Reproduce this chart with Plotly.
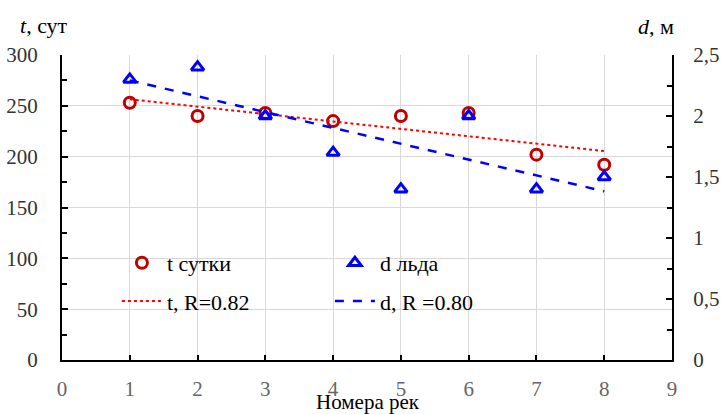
import numpy as np
import plotly.graph_objects as go

rivers = [1, 2, 3, 4, 5, 6, 7, 8]
t_days = [253, 240, 243, 235, 240, 243, 202, 192]
d_ice = [2.3, 2.4, 2.0, 1.7, 1.4, 2.0, 1.4, 1.5]
x_ticks = [0, 1, 2, 3, 4, 5, 6, 7, 8, 9]

xa = np.array(rivers, dtype=float)
kt, bt = np.polyfit(xa, np.array(t_days, dtype=float), 1)
kd, bd = np.polyfit(xa, np.array(d_ice, dtype=float), 1)
xt = [rivers[0], rivers[-1]]

FONT = "Liberation Serif"

fig = go.Figure()
fig.add_trace(go.Scatter(x=rivers, y=t_days, mode="markers", name="t сутки", legend="legend",
                         marker=dict(symbol="circle-open", size=11, color="#c00000",
                                     line=dict(width=3, color="#c00000"))))
fig.add_trace(go.Scatter(x=rivers, y=d_ice, mode="markers", name="d льда", yaxis="y2",
                         legend="legend",
                         marker=dict(symbol="triangle-up-open", size=11, color="#0000ff",
                                     line=dict(width=3, color="#0000ff"))))
fig.add_trace(go.Scatter(x=xt, y=[kt * v + bt for v in xt], mode="lines", name="t, R=0.82",
                         legend="legend2",
                         line=dict(color="#ff0000", width=2, dash="dot")))
fig.add_trace(go.Scatter(x=xt, y=[kd * v + bd for v in xt], mode="lines", name="d, R =0.80",
                         yaxis="y2", legend="legend2",
                         line=dict(color="#0000ff", width=2.5, dash="dash")))

leg_common = dict(orientation="h", xanchor="left", yanchor="middle",
                  bgcolor="rgba(0,0,0,0)", entrywidth=158, entrywidthmode="pixels",
                  itemwidth=40, font=dict(family=FONT, size=22, color="#000000"))

fig.update_layout(
    width=724, height=414,
    margin=dict(l=62, r=52, t=55, b=54),
    plot_bgcolor="white", paper_bgcolor="white",
    font=dict(family=FONT, size=21, color="#000000"),
    separators=", ",
    showlegend=True,
    legend=dict(x=0.090, y=0.318, **leg_common),
    legend2=dict(x=0.090, y=0.193, **leg_common),
    xaxis=dict(range=[0, 9], tickvals=x_ticks, showgrid=True, gridcolor="#d9d9d9",
               gridwidth=1, zeroline=False, showline=True, linecolor="#000000", linewidth=2,
               ticks="inside", ticklen=5, tickwidth=2, tickcolor="#000000",
               tickfont=dict(family=FONT, size=21, color="#666666"),
               ticklabelstandoff=9, automargin=False),
    yaxis=dict(range=[0, 300], dtick=50, showgrid=True, gridcolor="#d9d9d9", gridwidth=1,
               zeroline=False, showline=True, linecolor="#000000", linewidth=2,
               ticks="inside", ticklen=6, tickwidth=2, tickcolor="#000000",
               minor=dict(dtick=25, ticks="inside", ticklen=5, tickwidth=2,
                          tickcolor="#000000", showgrid=False),
               tickfont=dict(family=FONT, size=21, color="#333333"),
               ticklabelstandoff=18, automargin=False),
    yaxis2=dict(range=[0, 2.5], dtick=0.5, overlaying="y", side="right", showgrid=False,
                zeroline=False, showline=True, linecolor="#000000", linewidth=2,
                ticks="inside", ticklen=6, tickwidth=2, tickcolor="#000000",
                minor=dict(dtick=0.25, ticks="inside", ticklen=5, tickwidth=2,
                           tickcolor="#000000", showgrid=False),
                tickfont=dict(family=FONT, size=21, color="#333333"),
                ticklabelstandoff=15, automargin=False),
    annotations=[
        dict(text="<i>t</i>, сут", xref="paper", yref="paper", x=-0.0721, y=1.098,
             xanchor="left", yanchor="middle", showarrow=False,
             font=dict(family=FONT, size=22, color="#000000")),
        dict(text="<i>d</i>, м", xref="paper", yref="paper", x=0.941, y=1.092,
             xanchor="left", yanchor="middle", showarrow=False,
             font=dict(family=FONT, size=22, color="#000000")),
        dict(text="Номера рек", xref="paper", yref="paper", x=0.5016, y=-0.138,
             xanchor="center", yanchor="middle", showarrow=False,
             font=dict(family=FONT, size=21, color="#000000")),
    ],
)

fig.write_html("out.html", config={"displayModeBar": False},
               post_script="document.body.style.margin='0';")
